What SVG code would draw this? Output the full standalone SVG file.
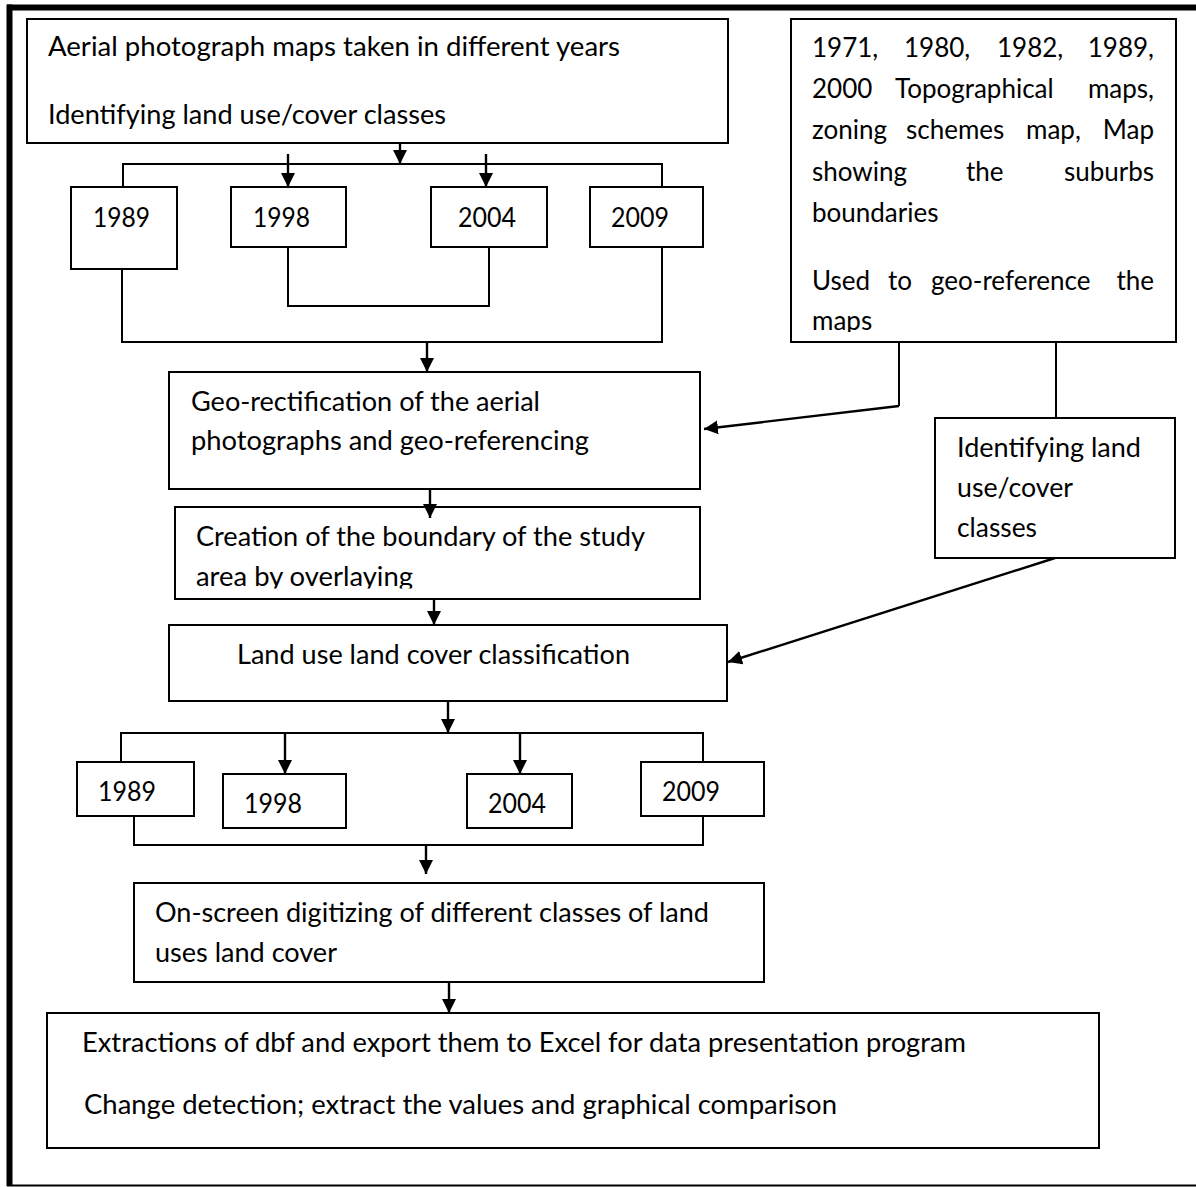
<svg xmlns="http://www.w3.org/2000/svg" width="1196" height="1187" viewBox="0 0 1196 1187">
<style>
.box{fill:#fff;stroke:#000;stroke-width:2}
.ln{fill:none;stroke:#000;stroke-width:2}
.ar{fill:none;stroke:#000;stroke-width:2.4;marker-end:url(#ah)}
.t{font-family:Lato,"Liberation Sans",sans-serif;font-size:26px;fill:#000}
.e{text-anchor:end}
</style>
<defs>
<marker id="ah" viewBox="0 0 14 14" refX="14" refY="7" markerWidth="14" markerHeight="14" markerUnits="userSpaceOnUse" orient="auto">
<path d="M0,0 L14,7 L0,14 z" fill="#000"/>
</marker>
<clipPath id="clipMaps"><rect x="790" y="18" width="388" height="314"/></clipPath>
<clipPath id="clipArea"><rect x="170" y="505" width="535" height="83.5"/></clipPath>
</defs>
<rect width="1196" height="1187" fill="#fff"/>
<g id="frame">
<line x1="7" y1="7.5" x2="1196" y2="7.5" stroke="#000" stroke-width="6"/>
<line x1="9.5" y1="4.5" x2="9.5" y2="1186" stroke="#000" stroke-width="6"/>
<line x1="7" y1="1185.5" x2="1196" y2="1185.5" stroke="#000" stroke-width="2"/>
</g>
<g id="node-aerial">
<rect class="box" x="27" y="19" width="701" height="124"/>
<text class="t" x="48" y="56" textLength="572" lengthAdjust="spacingAndGlyphs">Aerial photograph maps taken in different years</text>
<text class="t" x="48" y="124" textLength="398" lengthAdjust="spacingAndGlyphs">Identifying land use/cover classes</text>
</g>
<g id="node-1989a">
<rect class="box" x="71" y="187" width="106" height="82"/>
<text class="t" x="93" y="227" textLength="57" lengthAdjust="spacingAndGlyphs">1989</text>
</g>
<g id="node-1998a">
<rect class="box" x="231" y="187" width="115" height="60"/>
<text class="t" x="253" y="227" textLength="57" lengthAdjust="spacingAndGlyphs">1998</text>
</g>
<g id="node-2004a">
<rect class="box" x="431" y="187" width="116" height="60"/>
<text class="t" x="458" y="227" textLength="58" lengthAdjust="spacingAndGlyphs">2004</text>
</g>
<g id="node-2009a">
<rect class="box" x="590" y="187" width="113" height="60"/>
<text class="t" x="611" y="227" textLength="58" lengthAdjust="spacingAndGlyphs">2009</text>
</g>
<g id="node-topomaps">
<rect class="box" x="791" y="19" width="385" height="323"/>
<g clip-path="url(#clipMaps)">
<text class="t" y="57"><tspan x="812">1971,</tspan><tspan x="904">1980,</tspan><tspan x="997">1982,</tspan></text>
<text class="t e" x="1154" y="57">1989,</text>
<text class="t" y="98"><tspan x="812">2000</tspan><tspan x="895">Topographical</tspan></text>
<text class="t e" x="1154" y="98">maps,</text>
<text class="t" y="139"><tspan x="812">zoning</tspan><tspan x="906">schemes</tspan><tspan x="1026">map,</tspan></text>
<text class="t e" x="1154" y="139">Map</text>
<text class="t" y="181"><tspan x="812">showing</tspan><tspan x="966">the</tspan></text>
<text class="t e" x="1154" y="181">suburbs</text>
<text class="t" x="812" y="222">boundaries</text>
<text class="t" y="290"><tspan x="812">Used</tspan><tspan x="888">to</tspan><tspan x="931">geo-reference</tspan></text>
<text class="t e" x="1154" y="290">the</text>
<text class="t" x="812" y="330">maps</text>
</g>
</g>
<g id="node-georect">
<rect class="box" x="169" y="372" width="531" height="117"/>
<text class="t" x="191" y="411" textLength="349" lengthAdjust="spacingAndGlyphs">Geo-rectification of the aerial</text>
<text class="t" x="191" y="450" textLength="398" lengthAdjust="spacingAndGlyphs">photographs and geo-referencing</text>
</g>
<g id="node-creation">
<rect class="box" x="175" y="507" width="525" height="92"/>
<text class="t" x="196" y="546" textLength="449" lengthAdjust="spacingAndGlyphs">Creation of the boundary of the study</text>
<text class="t" x="196" y="586" textLength="217" lengthAdjust="spacingAndGlyphs" clip-path="url(#clipArea)">area by overlaying</text>
</g>
<g id="node-identify">
<rect class="box" x="935" y="418" width="240" height="140"/>
<text class="t" x="957" y="457" textLength="184" lengthAdjust="spacingAndGlyphs">Identifying land</text>
<text class="t" x="957" y="497" textLength="116" lengthAdjust="spacingAndGlyphs">use/cover</text>
<text class="t" x="957" y="537" textLength="80" lengthAdjust="spacingAndGlyphs">classes</text>
</g>
<g id="node-classification">
<rect class="box" x="169" y="625" width="558" height="76"/>
<text class="t" x="237" y="664" textLength="393" lengthAdjust="spacingAndGlyphs">Land use land cover classification</text>
</g>
<g id="node-1989b">
<rect class="box" x="77" y="762" width="117" height="54"/>
<text class="t" x="98" y="801" textLength="58" lengthAdjust="spacingAndGlyphs">1989</text>
</g>
<g id="node-1998b">
<rect class="box" x="223" y="774" width="123" height="54"/>
<text class="t" x="244" y="813" textLength="58" lengthAdjust="spacingAndGlyphs">1998</text>
</g>
<g id="node-2004b">
<rect class="box" x="467" y="774" width="105" height="54"/>
<text class="t" x="488" y="813" textLength="58" lengthAdjust="spacingAndGlyphs">2004</text>
</g>
<g id="node-2009b">
<rect class="box" x="641" y="762" width="123" height="54"/>
<text class="t" x="662" y="801" textLength="58" lengthAdjust="spacingAndGlyphs">2009</text>
</g>
<g id="node-digitizing">
<rect class="box" x="134" y="883" width="630" height="99"/>
<text class="t" x="155" y="922" textLength="554" lengthAdjust="spacingAndGlyphs">On-screen digitizing of different classes of land</text>
<text class="t" x="155" y="962" textLength="182" lengthAdjust="spacingAndGlyphs">uses land cover</text>
</g>
<g id="node-extraction">
<rect class="box" x="47" y="1013" width="1052" height="135"/>
<text class="t" x="82" y="1052" textLength="884" lengthAdjust="spacingAndGlyphs">Extractions of dbf and export them to Excel for data presentation program</text>
<text class="t" x="84" y="1114" textLength="753" lengthAdjust="spacingAndGlyphs">Change detection; extract the values and graphical comparison</text>
</g>
<g id="connectors">
<line class="ar" x1="400" y1="143" x2="400" y2="164"/>
<polyline class="ln" points="123,187 123,164 662,164 662,187"/>
<line class="ar" x1="288" y1="154" x2="288" y2="187"/>
<line class="ar" x1="486" y1="154" x2="486" y2="187"/>
<polyline class="ln" points="288,247 288,306 489,306 489,247"/>
<polyline class="ln" points="122,269 122,342 662,342 662,247"/>
<line class="ar" x1="427" y1="342" x2="427" y2="372"/>
<polyline class="ln" points="899,342 899,406"/>
<line class="ar" x1="899" y1="406" x2="704" y2="429"/>
<line class="ln" x1="1056" y1="342" x2="1056" y2="418"/>
<line class="ar" x1="430" y1="489" x2="430" y2="518"/>
<line class="ar" x1="434" y1="599" x2="434" y2="625"/>
<line class="ar" x1="1055" y1="558" x2="728" y2="662"/>
<line class="ar" x1="448" y1="701" x2="448" y2="733"/>
<polyline class="ln" points="121,762 121,733 703,733 703,762"/>
<line class="ar" x1="285" y1="733" x2="285" y2="774"/>
<line class="ar" x1="520" y1="733" x2="520" y2="774"/>
<polyline class="ln" points="134,816 134,845 703,845 703,816"/>
<line class="ar" x1="426" y1="846" x2="426" y2="874"/>
<line class="ar" x1="449" y1="982" x2="449" y2="1013"/>
</g>
</svg>
